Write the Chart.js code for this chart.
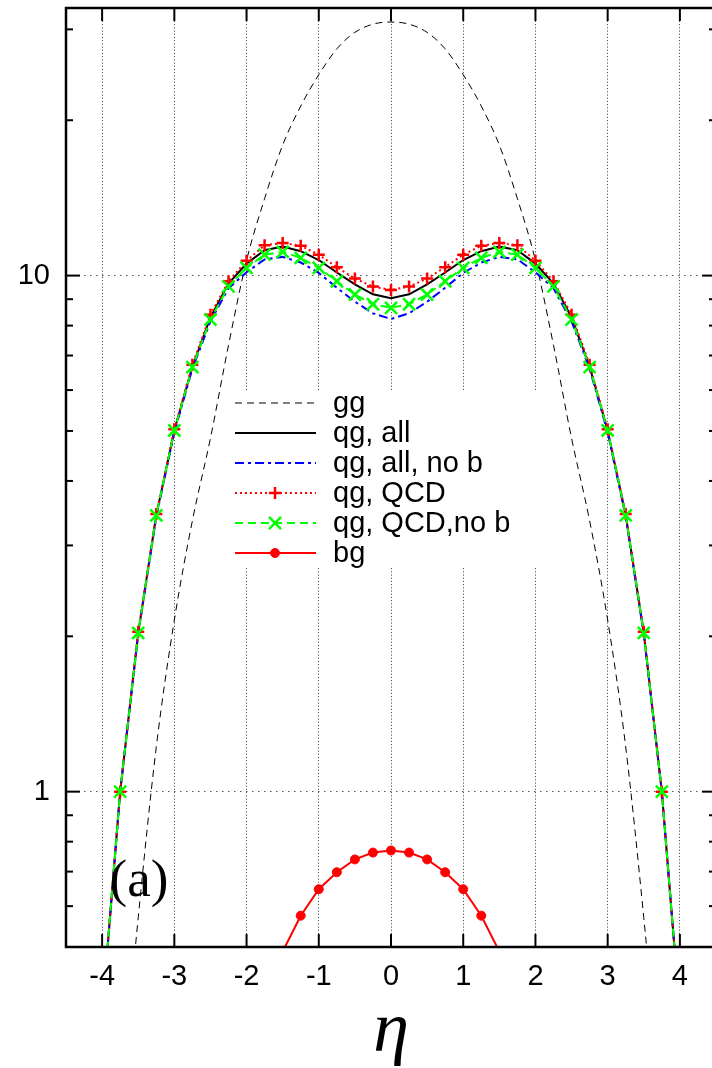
<!DOCTYPE html>
<html lang="en">
  <head>
    <meta charset="UTF-8" />
    <title>eta distributions</title>
    <script src="https://cdn.jsdelivr.net/npm/chart.js@4"></script>
    <style>
      html, body { margin: 0; padding: 0; overflow: hidden; background: #fff; }
    </style>
  </head>
  <body>
    <canvas id="chart" width="716" height="1068"></canvas>

    <script>
      // eta grid of the qg curves
      const eta = [-4, -3.75, -3.5, -3.25, -3, -2.75, -2.5, -2.25, -2, -1.75, -1.5, -1.25, -1, -0.75, -0.5, -0.25, 0,
                   0.25, 0.5, 0.75, 1, 1.25, 1.5, 1.75, 2, 2.25, 2.5, 2.75, 3, 3.25, 3.5, 3.75, 4];
      const qgAll = [0.37, 1.0, 2.03, 3.43, 5.01, 6.66, 8.3, 9.65, 10.55, 11.2, 11.38, 11.15, 10.72, 10.14, 9.62, 9.2, 9.04,
                     9.2, 9.62, 10.14, 10.72, 11.15, 11.38, 11.2, 10.55, 9.65, 8.3, 6.66, 5.01, 3.43, 2.03, 1.0, 0.37];
      const qgAllNoB = [0.37, 1.0, 2.02, 3.41, 4.97, 6.6, 8.15, 9.45, 10.15, 10.75, 10.87, 10.6, 10.12, 9.47, 8.9, 8.45, 8.24,
                        8.45, 8.9, 9.47, 10.12, 10.6, 10.87, 10.75, 10.15, 9.45, 8.15, 6.6, 4.97, 3.41, 2.02, 1.0, 0.37];
      const qgQCD = [0.37, 1.0, 2.04, 3.45, 5.04, 6.72, 8.4, 9.75, 10.69, 11.45, 11.57, 11.42, 10.98, 10.38, 9.87, 9.52, 9.38,
                     9.52, 9.87, 10.38, 10.98, 11.42, 11.57, 11.45, 10.69, 9.75, 8.4, 6.72, 5.04, 3.45, 2.04, 1.0, 0.37];
      const qgQCDNoB = [0.37, 1.0, 2.03, 3.43, 5.01, 6.65, 8.22, 9.53, 10.35, 10.98, 11.12, 10.82, 10.35, 9.75, 9.19, 8.8, 8.66,
                        8.8, 9.19, 9.75, 10.35, 10.82, 11.12, 10.98, 10.35, 9.53, 8.22, 6.65, 5.01, 3.43, 2.03, 1.0, 0.37];

      // gg curve
      const ggEta = [-3.75, -3.5, -3.25, -3, -2.75, -2.5, -2.25, -2, -1.75, -1.5, -1.25, -1, -0.75, -0.5, -0.25, 0,
                     0.25, 0.5, 0.75, 1, 1.25, 1.5, 1.75, 2, 2.25, 2.5, 2.75, 3, 3.25, 3.5, 3.75];
      const gg = [0.24, 0.57, 1.22, 2.15, 3.35, 4.84, 7.33, 10.7, 14.1, 17.9, 21.3, 24.5, 27.5, 29.6, 30.7, 31.0,
                  30.7, 29.6, 27.5, 24.5, 21.3, 17.9, 14.1, 10.7, 7.33, 4.84, 3.35, 2.15, 1.22, 0.57, 0.24];

      // bg curve
      const bgEta = [-1.5, -1.25, -1, -0.75, -0.5, -0.25, 0, 0.25, 0.5, 0.75, 1, 1.25, 1.5];
      const bg = [0.49, 0.575, 0.647, 0.698, 0.739, 0.762, 0.769, 0.762, 0.739, 0.698, 0.647, 0.575, 0.49];

      const xTicks = [-4, -3, -2, -1, 0, 1, 2, 3, 4];
      const yLabelled = [1, 10];
      const yMinor = [0.6, 0.7, 0.8, 0.9, 2, 3, 4, 5, 6, 7, 8, 9, 20, 30];
      const yMin = 0.5, yMax = 33;

      const pts = (xs, ys) => xs.map((v, i) => ({ x: v, y: ys[i] }));
      // gnuplot does not draw points outside the range
      const markSize = (r) => (c) => (c.raw && c.raw.y < yMin ? 0 : r);

      // frame + inward ticks, gnuplot style
      const frame = {
        id: "frame",
        afterDatasetsDraw(chart) {
          const { ctx, chartArea: a, scales: { x, y } } = chart;
          const seg = (x1, y1, x2, y2) => { ctx.beginPath(); ctx.moveTo(x1, y1); ctx.lineTo(x2, y2); ctx.stroke(); };
          ctx.save();
          ctx.strokeStyle = "#000";
          ctx.lineWidth = 2;
          xTicks.forEach((v) => {
            const px = x.getPixelForValue(v);
            seg(px, a.bottom, px, a.bottom - 13);
            seg(px, a.top, px, a.top + 13);
          });
          yLabelled.forEach((v) => {
            const py = y.getPixelForValue(v);
            seg(a.left, py, a.left + 14, py);
            seg(a.right, py, a.right - 14, py);
          });
          yMinor.forEach((v) => {
            const py = y.getPixelForValue(v);
            seg(a.left, py, a.left + 7, py);
            seg(a.right, py, a.right - 7, py);
          });
          ctx.lineWidth = 2.5;
          ctx.strokeRect(a.left, a.top, a.right - a.left, a.bottom - a.top);

          ctx.fillStyle = "#000";
          ctx.font = "53px 'Liberation Serif'";
          ctx.textAlign = "center";
          ctx.textBaseline = "alphabetic";
          ctx.fillText("(a)", 139, 896);
          ctx.restore();
        },
      };

      // key with opaque box inside the plot
      const key = {
        id: "key",
        beforeDatasetsDraw(chart) {
          const ctx = chart.ctx;
          ctx.save();
          ctx.fillStyle = "#fff";
          ctx.fillRect(228, 390, 317, 177);
          ctx.restore();
        },
        afterDatasetsDraw(chart) {
          const ctx = chart.ctx;
          ctx.save();
          chart.data.datasets.forEach((ds, i) => {
            const yy = 403 + i * 30;
            ctx.strokeStyle = ds.borderColor;
            ctx.lineWidth = ds.borderWidth;
            ctx.setLineDash(ds.borderDash || []);
            ctx.beginPath();
            ctx.moveTo(235, yy);
            ctx.lineTo(316, yy);
            ctx.stroke();
            ctx.setLineDash([]);
            if (ds.keyMarker) {
              ctx.fillStyle = ds.pointBackgroundColor;
              ctx.strokeStyle = ds.pointBorderColor;
              ctx.lineWidth = ds.pointBorderWidth;
              Chart.helpers.drawPoint(ctx, { pointStyle: ds.pointStyle, radius: ds.keyMarker, borderWidth: ds.pointBorderWidth, rotation: 0 }, 275, yy);
            }
            ctx.fillStyle = "#000";
            ctx.font = "29px 'Liberation Sans'";
            ctx.textAlign = "left";
            ctx.textBaseline = "middle";
            ctx.fillText(ds.label, 333, yy + 1);
          });
          ctx.restore();
        },
      };

      new Chart(document.getElementById("chart"), {
        type: "scatter",
        data: {
          datasets: [
            {
              label: "gg",
              data: pts(ggEta, gg),
              showLine: true,
              borderColor: "#000",
              borderWidth: 1,
              borderDash: [7, 5],
              pointRadius: 0,
              cubicInterpolationMode: "monotone",
              order: 6,
            },
            {
              label: "qg, all",
              data: pts(eta, qgAll),
              showLine: true,
              borderColor: "#000",
              borderWidth: 2,
              pointRadius: 0,
              order: 5,
            },
            {
              label: "qg, all, no b",
              data: pts(eta, qgAllNoB),
              showLine: true,
              borderColor: "#0000ff",
              borderWidth: 2,
              borderDash: [9, 4, 3, 4],
              pointRadius: 0,
              order: 4,
            },
            {
              label: "qg, QCD",
              data: pts(eta, qgQCD),
              showLine: true,
              borderColor: "#ff0000",
              borderWidth: 2,
              borderDash: [2, 3],
              pointStyle: "cross",
              pointRadius: markSize(6),
              pointBorderColor: "#ff0000",
              pointBackgroundColor: "#ff0000",
              pointBorderWidth: 2.5,
              keyMarker: 6,
              order: 3,
            },
            {
              label: "qg, QCD,no b",
              data: pts(eta, qgQCDNoB),
              showLine: true,
              borderColor: "#00ff00",
              borderWidth: 2,
              borderDash: [8, 5],
              pointStyle: "crossRot",
              pointRadius: markSize(8.5),
              pointBorderColor: "#00ff00",
              pointBackgroundColor: "#00ff00",
              pointBorderWidth: 2.5,
              keyMarker: 8.5,
              order: 2,
            },
            {
              label: "bg",
              data: pts(bgEta, bg),
              showLine: true,
              borderColor: "#ff0000",
              borderWidth: 2,
              pointStyle: "circle",
              pointRadius: markSize(4.5),
              pointBorderColor: "#ff0000",
              pointBackgroundColor: "#ff0000",
              pointBorderWidth: 1,
              keyMarker: 4.5,
              order: 1,
            },
          ],
        },
        options: {
          responsive: false,
          animation: false,
          clip: 0,
          layout: { padding: { top: 8, left: 0, right: 0, bottom: 0 } },
          plugins: { legend: { display: false }, tooltip: { enabled: false } },
          scales: {
            x: {
              type: "linear",
              min: -4.5,
              max: 4.5,
              afterBuildTicks: (s) => { s.ticks = xTicks.map((v) => ({ value: v })); },
              afterFit: (s) => { s.height = 121; s.paddingLeft = 0; s.paddingRight = 0; },
              ticks: {
                padding: 13,
                color: "#000",
                font: { family: "'Liberation Sans'", size: 29 },
                callback: (v) => String(v),
              },
              grid: { color: "#555", lineWidth: 1, drawTicks: false },
              border: { display: false, dash: [1.2, 2] },
              title: {
                display: true,
                text: "η",
                color: "#000",
                font: { family: "'Liberation Serif'", style: "italic", size: 72, lineHeight: 1 },
                padding: { top: 0, bottom: 0 },
              },
            },
            y: {
              type: "logarithmic",
              min: yMin,
              max: yMax,
              afterBuildTicks: (s) => { s.ticks = yLabelled.concat(yMinor).sort((a, b) => a - b).map((v) => ({ value: v })); },
              afterFit: (s) => { s.width = 66; s.paddingTop = 0; s.paddingBottom = 0; },
              ticks: {
                padding: 16,
                color: "#000",
                font: { family: "'Liberation Sans'", size: 29 },
                callback: (v) => (yLabelled.includes(v) ? String(v) : null),
              },
              grid: { color: "#555", lineWidth: 1, drawTicks: false },
              border: { display: false, dash: [1.5, 4.5] },
            },
          },
        },
        plugins: [key, frame],
      });
    </script>
  </body>
</html>
